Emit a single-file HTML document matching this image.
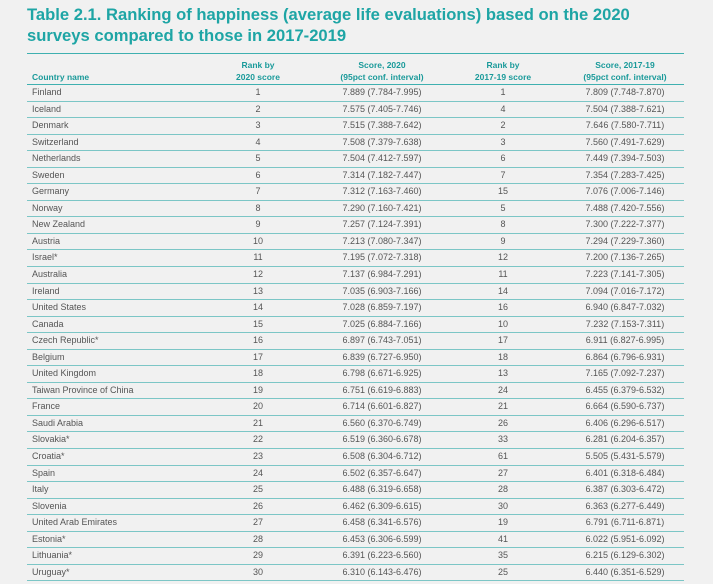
<!DOCTYPE html><html><head><style>
body{margin:0;width:713px;height:584px;background:#f1f1f1;font-family:"Liberation Sans",sans-serif;overflow:hidden;position:relative}
h1{position:absolute;left:27px;top:4px;margin:0;font-size:16.6px;line-height:21px;color:#1ea5a5;font-weight:bold;white-space:nowrap}
.t{position:absolute;left:27px;top:53px;width:657px;border-top:1px solid #3fb0b0}
.hd{height:30px;border-bottom:1px solid #3fb0b0;position:relative;color:#1a9a9a;font-weight:bold;font-size:8.5px}
.hd div{position:absolute;text-align:center;line-height:12px}
.r{height:15.55px;border-bottom:1px solid #7cc6c6;position:relative;font-size:9px;color:#555;line-height:15px}
.r span{position:absolute;top:0}
.c0{left:5px}.c1{left:191px;width:80px;text-align:center}.c2{left:300px;width:110px;text-align:center}.c3{left:436px;width:80px;text-align:center}.c4{left:543px;width:110px;text-align:center}
</style></head><body>
<h1>Table 2.1. Ranking of happiness (average life evaluations) based on the 2020<br>surveys compared to those in 2017-2019</h1>
<div class="t">
<div class="hd"><div style="left:5px;top:17px;text-align:left">Country name</div><div style="left:191px;width:80px;top:5px">Rank by<br>2020 score</div><div style="left:290px;width:130px;top:5px">Score, 2020<br>(95pct conf. interval)</div><div style="left:436px;width:80px;top:5px">Rank by<br>2017-19 score</div><div style="left:533px;width:130px;top:5px">Score, 2017-19<br>(95pct conf. interval)</div></div>
<div id="b"></div></div>
<script>
var d=[["Finland",1,"7.889 (7.784-7.995)",1,"7.809 (7.748-7.870)"],["Iceland",2,"7.575 (7.405-7.746)",4,"7.504 (7.388-7.621)"],["Denmark",3,"7.515 (7.388-7.642)",2,"7.646 (7.580-7.711)"],["Switzerland",4,"7.508 (7.379-7.638)",3,"7.560 (7.491-7.629)"],["Netherlands",5,"7.504 (7.412-7.597)",6,"7.449 (7.394-7.503)"],["Sweden",6,"7.314 (7.182-7.447)",7,"7.354 (7.283-7.425)"],["Germany",7,"7.312 (7.163-7.460)",15,"7.076 (7.006-7.146)"],["Norway",8,"7.290 (7.160-7.421)",5,"7.488 (7.420-7.556)"],["New Zealand",9,"7.257 (7.124-7.391)",8,"7.300 (7.222-7.377)"],["Austria",10,"7.213 (7.080-7.347)",9,"7.294 (7.229-7.360)"],["Israel*",11,"7.195 (7.072-7.318)",12,"7.200 (7.136-7.265)"],["Australia",12,"7.137 (6.984-7.291)",11,"7.223 (7.141-7.305)"],["Ireland",13,"7.035 (6.903-7.166)",14,"7.094 (7.016-7.172)"],["United States",14,"7.028 (6.859-7.197)",16,"6.940 (6.847-7.032)"],["Canada",15,"7.025 (6.884-7.166)",10,"7.232 (7.153-7.311)"],["Czech Republic*",16,"6.897 (6.743-7.051)",17,"6.911 (6.827-6.995)"],["Belgium",17,"6.839 (6.727-6.950)",18,"6.864 (6.796-6.931)"],["United Kingdom",18,"6.798 (6.671-6.925)",13,"7.165 (7.092-7.237)"],["Taiwan Province of China",19,"6.751 (6.619-6.883)",24,"6.455 (6.379-6.532)"],["France",20,"6.714 (6.601-6.827)",21,"6.664 (6.590-6.737)"],["Saudi Arabia",21,"6.560 (6.370-6.749)",26,"6.406 (6.296-6.517)"],["Slovakia*",22,"6.519 (6.360-6.678)",33,"6.281 (6.204-6.357)"],["Croatia*",23,"6.508 (6.304-6.712)",61,"5.505 (5.431-5.579)"],["Spain",24,"6.502 (6.357-6.647)",27,"6.401 (6.318-6.484)"],["Italy",25,"6.488 (6.319-6.658)",28,"6.387 (6.303-6.472)"],["Slovenia",26,"6.462 (6.309-6.615)",30,"6.363 (6.277-6.449)"],["United Arab Emirates",27,"6.458 (6.341-6.576)",19,"6.791 (6.711-6.871)"],["Estonia*",28,"6.453 (6.306-6.599)",41,"6.022 (5.951-6.092)"],["Lithuania*",29,"6.391 (6.223-6.560)",35,"6.215 (6.129-6.302)"],["Uruguay*",30,"6.310 (6.143-6.476)",25,"6.440 (6.351-6.529)"]];
var h="";d.forEach(function(r){h+='<div class="r">'+r.map(function(v,i){return '<span class="c'+i+'">'+v+'</span>'}).join('')+'</div>'});document.getElementById('b').innerHTML=h;
</script>
</body></html>
